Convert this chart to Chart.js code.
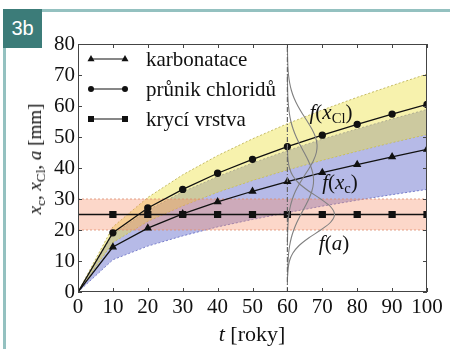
<!DOCTYPE html>
<html>
<head>
<meta charset="utf-8">
<script src="https://cdn.jsdelivr.net/npm/chart.js@4"></script>
<style>
    html, body { margin: 0; padding: 0; background: #fff; }
    #wrap { position: relative; width: 450px; height: 349px; overflow: hidden; }
    #graf { position: absolute; left: 0; top: 0; }
    .ramec { position: absolute; left: 3px; top: 9px; width: 460px; height: 360px;
             border-top: 3px solid #94c1c0; border-left: 3px solid #94c1c0; }
    .stitek { position: absolute; left: 3px; top: 9px; width: 39px; height: 39px;
              background: #3c7c79; color: #fff; font: 20px "Liberation Sans", sans-serif;
              line-height: 39px; text-align: center; }
    .txt { position: absolute; font-family: "Liberation Serif", serif; color: #111; white-space: nowrap; }
    .txt sub { font-size: 70%; vertical-align: -0.3em; line-height: 0; }
</style>
</head>
<body>
<div id="wrap">
    <canvas id="graf" width="450" height="349"></canvas>
    <div class="ramec"></div>
    <div class="stitek">3b</div>
    <div class="txt" style="font-size:19px; left:35px; top:159px; transform: translate(-50%,-50%) rotate(-90deg);"><i>x</i><sub>c</sub>, <i>x</i><sub>Cl</sub>, <i>a</i> [mm]</div>
    <div class="txt" style="font-size:22px; left:252px; top:334px; transform: translate(-50%,-50%);"><i>t</i> [roky]</div>
    <div class="txt" style="font-size:21px; left:331px; top:112px; transform: translate(-50%,-50%);"><i>f</i>(<i>x</i><sub>Cl</sub>)</div>
    <div class="txt" style="font-size:21px; left:340px; top:182px; transform: translate(-50%,-50%);"><i>f</i>(<i>x</i><sub>c</sub>)</div>
    <div class="txt" style="font-size:21px; left:334px; top:243px; transform: translate(-50%,-50%);"><i>f</i>(<i>a</i>)</div>
</div>

<script>
/* =========================================================
    DATOS
========================================================= */

const roky = [0, 10, 20, 30, 40, 50, 60, 70, 80, 90, 100];

// karbonatace (prumer + pasmo)
const karbonatace = [0, 14.5, 20.6, 25.2, 29.1, 32.5, 35.6, 38.5, 41.1, 43.6, 46.0];
const karbHorni   = [0, 18.6, 26.4, 32.3, 37.2, 41.6, 45.6, 49.3, 52.6, 55.8, 58.9];
const karbDolni   = [0, 10.4, 14.8, 18.1, 21.0, 23.4, 25.6, 27.7, 29.6, 31.4, 33.1];

// prunik chloridu (prumer + pasmo)
const chloridy    = [0, 19.1, 27.1, 33.1, 38.3, 42.8, 46.9, 50.6, 54.1, 57.4, 60.5];
const chlHorni    = [0, 21.0, 30.5, 37.8, 44.0, 49.4, 54.3, 58.7, 62.8, 66.6, 70.3];
const chlDolni    = [0, 16.0, 22.8, 27.8, 32.2, 36.0, 39.4, 42.5, 45.4, 48.2, 50.8];

// kryci vrstva
const kryci       = [25, 25, 25, 25, 25, 25, 25, 25, 25, 25, 25];
const kryciHorni  = [30, 30, 30, 30, 30, 30, 30, 30, 30, 30, 30];
const kryciDolni  = [20, 20, 20, 20, 20, 20, 20, 20, 20, 20, 20];

// hustoty v case t = 60 (poloha y, poloha t)
const fClY = [80, 77.5, 75, 72.5, 70, 67.5, 65, 62.5, 60, 57.5, 55, 52.5, 50, 47.5, 45,
              42.5, 40, 37.5, 35, 32.5, 30, 27.5, 25, 22.5, 20, 17.5, 15];
const fClT = [60.01, 60.03, 60.07, 60.15, 60.32, 60.64, 61.15, 61.93, 63.0, 64.3, 65.73, 67.05, 68.04, 68.49, 68.3,
              67.5, 66.28, 64.87, 63.5, 62.3, 61.43, 60.81, 60.43, 60.21, 60.09, 60.04, 60.01];

const fcY = [70, 67.5, 65, 62.5, 60, 57.5, 55, 52.5, 50, 47.5, 45, 42.5, 40, 37.5,
             35, 32.5, 30, 27.5, 25, 22.5, 20, 17.5, 15, 12.5, 10, 7.5, 5, 2.5];
const fcT = [60.01, 60.03, 60.07, 60.15, 60.31, 60.58, 61.01, 61.66, 62.53, 63.6, 64.79, 65.93, 66.86, 67.41,
             67.46, 67.0, 66.14, 65.03, 63.84, 62.73, 61.82, 61.12, 60.65, 60.35, 60.18, 60.08, 60.03, 60.01];

const faY = [47.5, 45, 42.5, 40, 37.5, 35, 32.5, 30, 27.5, 25, 22.5, 20, 17.5, 15, 12.5, 10, 7.5, 5];
const faT = [60.01, 60.05, 60.19, 60.59, 61.54, 63.36, 66.18, 69.54, 72.38, 73.5, 72.38, 69.54, 66.18, 63.36, 61.54, 60.59, 60.19, 60.05];

const svislaY = [0, 80];
const svislaT = [60, 60];

const ticksX = [0, 10, 20, 30, 40, 50, 60, 70, 80, 90, 100];
const ticksY = [0, 10, 20, 30, 40, 50, 60, 70, 80];

/* =========================================================
    UTILIDADES
========================================================= */

const body = (xs, ys) => xs.map((x, i) => ({ x: x, y: ys[i] }));
const bezPrvniho = (n, r) => Array.from({ length: n }, (_, i) => i === 0 ? 0 : r);

const PISMO = '"Liberation Serif", serif';

function znacka(ctx, typ, x, y) {
    ctx.beginPath();
    if (typ === "triangle") {
        ctx.moveTo(x, y - 4);
        ctx.lineTo(x + 3.5, y + 2.2);
        ctx.lineTo(x - 3.5, y + 2.2);
        ctx.closePath();
    } else if (typ === "circle") {
        ctx.arc(x, y, 3, 0, Math.PI * 2);
    } else {
        ctx.rect(x - 3, y - 3, 6, 6);
    }
    ctx.fill();
}

// legenda, ramecek a vnitrni carky
const ramecPlugin = {
    id: "ramec",
    afterDraw(chart) {
        const ctx = chart.ctx;
        const a = chart.chartArea;
        const sx = chart.scales.x, sy = chart.scales.y;

        ctx.save();
        ctx.strokeStyle = "#444";
        ctx.lineWidth = 1;
        ctx.strokeRect(a.left + 0.5, a.top + 0.5, a.right - a.left - 1, a.bottom - a.top - 1);

        ctx.beginPath();
        ticksX.forEach(v => {
            const px = Math.round(sx.getPixelForValue(v)) + 0.5;
            ctx.moveTo(px, a.bottom); ctx.lineTo(px, a.bottom - 4);
            ctx.moveTo(px, a.top); ctx.lineTo(px, a.top + 4);
        });
        ticksY.forEach(v => {
            const py = Math.round(sy.getPixelForValue(v)) + 0.5;
            ctx.moveTo(a.left, py); ctx.lineTo(a.left + 4, py);
            ctx.moveTo(a.right, py); ctx.lineTo(a.right - 4, py);
        });
        ctx.stroke();

        // legenda
        const polozky = [
            ["karbonatace", "triangle"],
            ["průnik chloridů", "circle"],
            ["krycí vrstva", "rect"]
        ];
        ctx.fillStyle = "#111";
        ctx.strokeStyle = "#111";
        ctx.lineWidth = 1.2;
        ctx.font = "21px " + PISMO;
        ctx.textBaseline = "middle";
        polozky.forEach((p, i) => {
            const y = a.top + 15 + i * 30;
            const x1 = a.left + 13, x2 = a.left + 47;
            ctx.beginPath();
            ctx.moveTo(x1, y); ctx.lineTo(x2, y);
            ctx.stroke();
            znacka(ctx, p[1], x1, y);
            znacka(ctx, p[1], x2, y);
            ctx.fillText(p[0], a.left + 68, y + 1);
        });
        ctx.restore();
    }
};

/* =========================================================
    GRAFICA
========================================================= */

document.addEventListener("DOMContentLoaded", () => {

    const pasmo = (data, barva, fill) => ({
        data: data,
        borderColor: barva,
        borderWidth: 1,
        borderDash: [2, 2],
        pointRadius: 0,
        fill: fill,
        tension: 0
    });

    const hustota = (data) => ({
        data: data,
        borderColor: "#808080",
        borderWidth: 1.1,
        pointRadius: 0,
        tension: 0.3
    });

    new Chart(document.getElementById("graf"), {
        type: "line",
        data: {
            datasets: [
                {
                    data: body(svislaT, svislaY),
                    borderColor: "#666",
                    borderWidth: 1.2,
                    borderDash: [5, 2, 1, 2],
                    pointRadius: 0
                },
                hustota(body(fClT, fClY)),
                hustota(body(fcT, fcY)),
                hustota(body(faT, faY)),
                {
                    label: "karbonatace",
                    data: body(roky, karbonatace),
                    borderColor: "#111",
                    backgroundColor: "#111",
                    borderWidth: 1.3,
                    pointStyle: "triangle",
                    pointRadius: bezPrvniho(roky.length, 3.5)
                },
                {
                    label: "průnik chloridů",
                    data: body(roky, chloridy),
                    borderColor: "#111",
                    backgroundColor: "#111",
                    borderWidth: 1.3,
                    pointStyle: "circle",
                    pointRadius: bezPrvniho(roky.length, 3)
                },
                {
                    label: "krycí vrstva",
                    data: body(roky, kryci),
                    borderColor: "#111",
                    backgroundColor: "#111",
                    borderWidth: 1.3,
                    pointStyle: "rect",
                    pointRadius: bezPrvniho(roky.length, 4.2)
                },
                pasmo(body(roky, kryciHorni), "rgba(220,140,110,0.8)", { target: "+1", above: "rgba(245,140,100,0.35)", below: "rgba(245,140,100,0.35)" }),
                pasmo(body(roky, kryciDolni), "rgba(220,140,110,0.8)", false),
                pasmo(body(roky, chlHorni), "rgba(190,180,90,0.9)", { target: "+1", above: "rgba(235,225,60,0.42)", below: "rgba(235,225,60,0.42)" }),
                pasmo(body(roky, chlDolni), "rgba(190,180,90,0.9)", false),
                pasmo(body(roky, karbHorni), "rgba(120,125,200,0.9)", { target: "+1", above: "rgba(85,95,200,0.43)", below: "rgba(85,95,200,0.43)" }),
                pasmo(body(roky, karbDolni), "rgba(120,125,200,0.9)", false)
            ]
        },
        options: {
            responsive: false,
            animation: false,
            layout: { padding: { left: 0, top: 44, right: 23, bottom: 0 } },
            plugins: {
                legend: { display: false },
                tooltip: { enabled: false }
            },
            scales: {
                x: {
                    type: "linear",
                    min: 0,
                    max: 100,
                    grid: { display: false, drawTicks: false },
                    border: { display: false },
                    ticks: {
                        stepSize: 10,
                        padding: 3,
                        autoSkip: false,
                        maxRotation: 0,
                        minRotation: 0,
                        color: "#111",
                        font: { family: PISMO, size: 21 }
                    },
                    afterFit: s => { s.height = 57; }
                },
                y: {
                    min: 0,
                    max: 80,
                    grid: { display: false, drawTicks: false },
                    border: { display: false },
                    ticks: {
                        stepSize: 10,
                        padding: 3,
                        color: "#111",
                        font: { family: PISMO, size: 21 }
                    },
                    afterFit: s => { s.width = 78; }
                }
            }
        },
        plugins: [ramecPlugin]
    });
});
</script>
</body>
</html>
